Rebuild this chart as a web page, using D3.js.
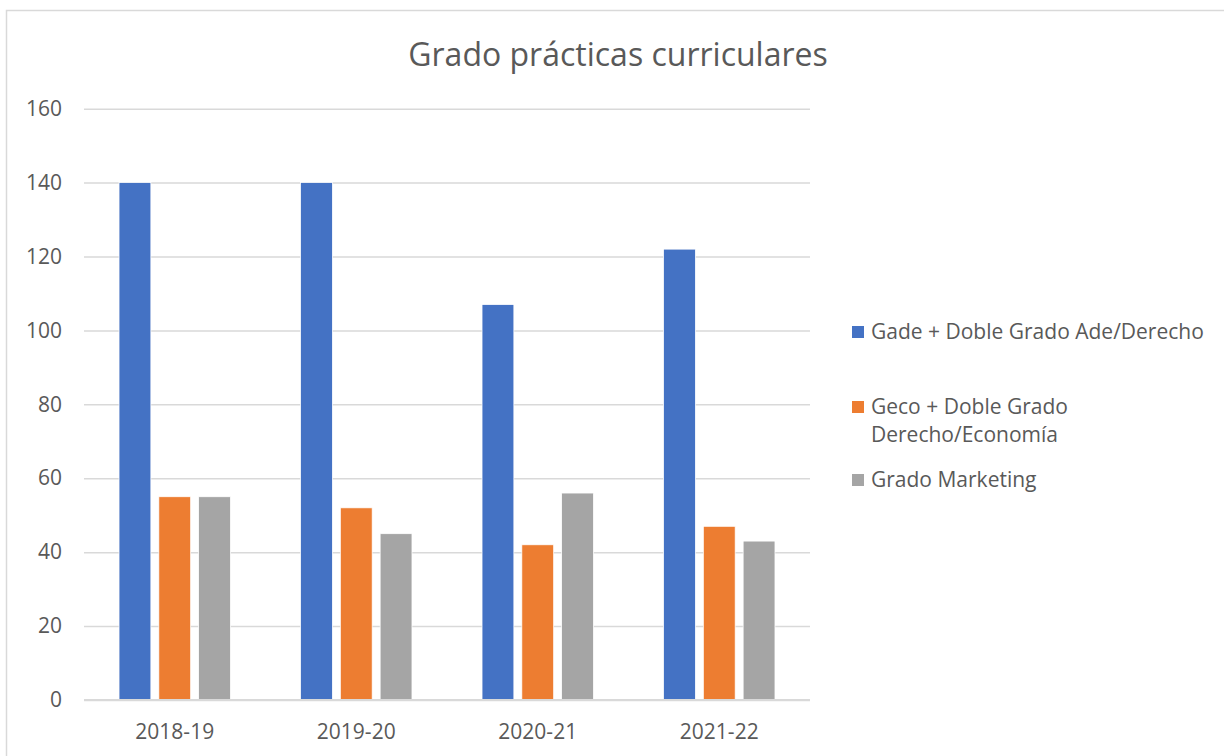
<!DOCTYPE html>
<html>
<head>
<meta charset="utf-8">
<script src="https://cdn.jsdelivr.net/npm/d3@7"></script>
<style>
  html, body { margin: 0; padding: 0; background: #fff; }
  svg { display: block; }
  text { font-family: "Open Sans", "Noto Sans", sans-serif; fill: #595959; }
</style>
</head>
<body>
<svg id="chart" width="1224" height="756"></svg>
<script>
const categories = ["2018-19", "2019-20", "2020-21", "2021-22"];
const seriesNames = ["Gade + Doble Grado Ade/Derecho", "Geco + Doble Grado Derecho/Economía", "Grado Marketing"];
const legendLines = [["Gade + Doble Grado Ade/Derecho"], ["Geco + Doble Grado", "Derecho/Economía"], ["Grado Marketing"]];
const gadeValues = [140, 140, 107, 122];
const gecoValues = [55, 52, 42, 47];
const marketingValues = [55, 45, 56, 43];
const yTicks = [0, 20, 40, 60, 80, 100, 120, 140, 160];
const colors = ["#4472C4", "#ED7D31", "#A5A5A5"];
const title = "Grado prácticas curriculares";

const seriesValues = [gadeValues, gecoValues, marketingValues];

const svg = d3.select("#chart");

// chart frame
svg.append("rect")
  .attr("x", 6.5).attr("y", 10.5)
  .attr("width", 1240).attr("height", 760)
  .attr("fill", "#fff").attr("stroke", "#d9d9d9").attr("stroke-width", 1.5);

const plot = { left: 84, right: 810, top: 108.7, bottom: 700 };

const y = d3.scaleLinear().domain([0, 160]).range([plot.bottom, plot.top]);
const x0 = d3.scaleBand().domain(categories).range([plot.left, plot.right])
  .paddingInner(0.386).paddingOuter(0.193);
const x1 = d3.scaleBand().domain(d3.range(seriesNames.length)).range([0, x0.bandwidth()])
  .paddingInner(0.2).paddingOuter(0);

// gridlines
const yAxis = d3.axisLeft(y).tickValues(yTicks).tickSize(-(plot.right - plot.left)).tickPadding(22);
const gy = svg.append("g").attr("transform", `translate(${plot.left},0)`).call(yAxis);
gy.select(".domain").remove();
gy.selectAll(".tick line").attr("stroke", "#d9d9d9").attr("stroke-width", 1.5);
gy.selectAll(".tick text").attr("fill", "#595959").style("font-size", "21px")
  .style("font-family", '"Open Sans", sans-serif');

// bars
const groups = svg.append("g").selectAll("g").data(categories).join("g")
  .attr("transform", d => `translate(${x0(d)},0)`);
groups.selectAll("rect")
  .data((c, ci) => seriesValues.map((vals, si) => ({ si, v: vals[ci] })))
  .join("rect")
  .attr("x", d => x1(d.si))
  .attr("width", x1.bandwidth())
  .attr("y", d => y(d.v))
  .attr("height", d => y(0) - y(d.v))
  .attr("fill", d => colors[d.si])
  .attr("stroke", "#fff").attr("stroke-width", 0.75);

// zero axis line
svg.append("line")
  .attr("x1", plot.left).attr("x2", plot.right)
  .attr("y1", y(0)).attr("y2", y(0))
  .attr("stroke", "#d9d9d9").attr("stroke-width", 2.2);

// x axis labels
const xAxis = d3.axisBottom(x0).tickSize(0).tickPadding(24);
const gx = svg.append("g").attr("transform", `translate(0,${plot.bottom})`).call(xAxis);
gx.select(".domain").remove();
gx.selectAll(".tick text").attr("fill", "#595959").style("font-size", "21px")
  .style("font-family", '"Open Sans", sans-serif');

// title
svg.append("text")
  .attr("x", 618).attr("y", 66)
  .attr("text-anchor", "middle")
  .style("font-size", "32px")
  .text(title);

// legend
const legendY = [332, 407, 480];
const legend = svg.append("g");
legendLines.forEach((lines, i) => {
  legend.append("rect")
    .attr("x", 852).attr("y", legendY[i] - 6)
    .attr("width", 12).attr("height", 12)
    .attr("fill", colors[i]);
  lines.forEach((ln, j) => {
    legend.append("text")
      .attr("x", 871).attr("y", legendY[i] + j * 28)
      .attr("dy", "0.35em")
      .style("font-size", "21px")
      .text(ln);
  });
});
</script>
</body>
</html>
